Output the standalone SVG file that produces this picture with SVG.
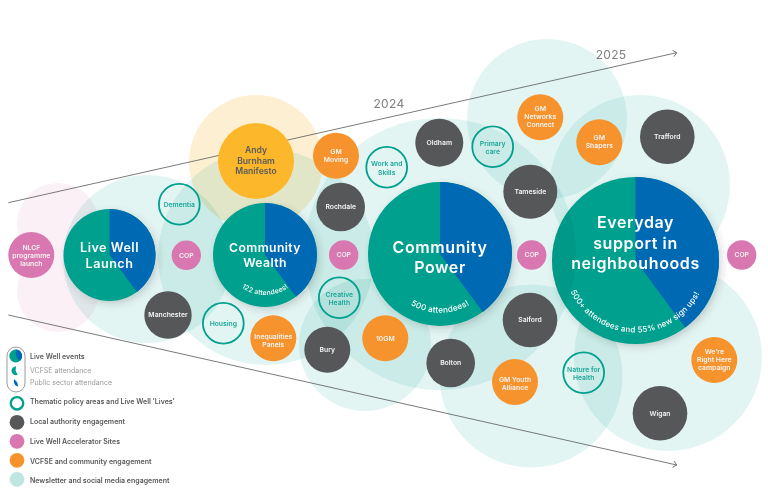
<svg xmlns="http://www.w3.org/2000/svg" width="768" height="501" viewBox="0 0 768 501">
<style>
text{font-family:Inter,"Liberation Sans",sans-serif;text-anchor:middle}
.halo{fill:#e3f5f3;mix-blend-mode:multiply}
.s{font-size:6.8px;font-weight:600;fill:#f4f4f4}
.t{font-size:6.8px;font-weight:600;fill:#1aa898}
.ring{fill:none;stroke:#00a08e;stroke-width:1.8}
.gray{fill:#555759}.pink{fill:#d977b0}.orange{fill:#f7932d}
.teal{fill:#00a08e}.blue{fill:#0069b4}
.big{fill:#fff;font-weight:600}
.cv{fill:#fff;font-weight:500}
.year{font-size:12px;fill:#808080;letter-spacing:.3px}
.leg{font-size:7px;font-weight:600;fill:#58595b;text-anchor:start}
.legl{font-size:7px;fill:#9a9a9a;text-anchor:start}
.axis{fill:none;stroke:#58595b;stroke-width:.8}
</style>
<defs>
<filter id="sh" x="-20%" y="-20%" width="145%" height="145%"><feDropShadow dx="2.5" dy="3" stdDeviation="3.5" flood-color="#333" flood-opacity=".2"/></filter>
<marker id="arr" markerWidth="8" markerHeight="8" refX="6" refY="4" orient="auto" markerUnits="userSpaceOnUse"><path d="M2.5 .8L6 4L2.5 7.2" fill="none" stroke="#58595b" stroke-width=".8"/></marker>
<clipPath id="evc"><circle cx="635.5" cy="260.5" r="83.5"/></clipPath>
<path id="a1" d="M225 255A40 40 0 0 0 305 255"/>
<path id="a2" d="M381.3 254A58.7 58.7 0 0 0 498.7 254"/>
<path id="a3" d="M563.5 260.5A72 72 0 0 0 707.5 260.5"/>
</defs>

<g id="halos">
<g style="mix-blend-mode:multiply" fill="#fbf0f6"><circle cx="58" cy="224" r="41"/><circle cx="58" cy="291" r="41"/></g>
<circle class="halo" cx="147" cy="259" r="84"/>
<circle class="halo" cx="266" cy="257" r="108"/>
<circle cx="256" cy="162" r="67" fill="#fdf0d2" style="mix-blend-mode:multiply"/>
<circle class="halo" cx="440" cy="254" r="136"/>
<circle class="halo" cx="365" cy="345" r="66"/>
<circle class="halo" cx="547" cy="119" r="80"/>
<circle class="halo" cx="640" cy="185" r="90"/>
<circle class="halo" cx="668" cy="357" r="94"/>
<circle class="halo" cx="531" cy="376" r="91.5"/>
</g>

<g id="connectors">
<path class="axis" d="M8.3 202.7L676.7 52.7" marker-end="url(#arr)"/>
<path class="axis" d="M8.3 315L676.7 465" marker-end="url(#arr)"/>
</g>
<text class="year" x="389" y="107.5">2024</text>
<text class="year" x="611" y="58.5">2025</text>

<g id="nlcf"><circle class="pink" cx="31.3" cy="255" r="23"/><text class="s"><tspan x="31.3" y="249.5">NLCF</tspan><tspan x="31.3" y="257.7">programme</tspan><tspan x="31.3" y="265.9">launch</tspan></text></g>
<g id="live-well"><g filter="url(#sh)"><circle class="teal" cx="109.5" cy="255" r="46"/><path class="blue" d="M109.5 255V209A46 46 0 0 1 136.9 292Z"/></g><text class="big" font-size="12.6" letter-spacing=".5"><tspan x="109.5" y="252">Live Well</tspan><tspan x="109.5" y="268">Launch</tspan></text></g>
<g id="dementia"><circle class="ring" cx="179.3" cy="204.3" r="20.4"/><text class="t" x="179.3" y="206.5">Dementia</text></g>
<g id="cop1"><circle class="pink" cx="186.3" cy="255.3" r="14.7"/><text class="s" x="186.3" y="257.6">COP</text></g>
<g id="manchester"><circle class="gray" cx="168" cy="315" r="23.7"/><text class="s" x="168" y="317.2">Manchester</text></g>
<g id="housing"><circle class="ring" cx="223.3" cy="323.3" r="20.4"/><text class="t" x="223.3" y="325.5">Housing</text></g>
<g id="inequalities"><circle class="orange" cx="273.3" cy="338.3" r="23"/><text class="s"><tspan x="273.3" y="338.5">Inequalities</tspan><tspan x="273.3" y="346.7">Panels</tspan></text></g>
<g id="andy"><circle cx="256" cy="161" r="38" fill="#fdb72b"/><text font-size="8.6" font-weight="600" fill="#58595b"><tspan x="256" y="153">Andy</tspan><tspan x="256" y="163.5">Burnham</tspan><tspan x="256" y="174">Manifesto</tspan></text></g>
<g id="community-wealth"><g filter="url(#sh)"><circle class="teal" cx="265" cy="255" r="52"/><path class="blue" d="M265 255V203A52 52 0 0 1 295.9 296.8Z"/></g><text class="big" font-size="12.2" letter-spacing=".4"><tspan x="265" y="251.7">Community</tspan><tspan x="265" y="266.7">Wealth</tspan></text><text class="cv" font-size="6.8" letter-spacing=".2"><textPath href="#a1" startOffset="50%">122 attendees!</textPath></text></g>
<g id="gm-moving"><circle class="orange" cx="336" cy="155.7" r="23"/><text class="s"><tspan x="336" y="153.5">GM</tspan><tspan x="336" y="161.7">Moving</tspan></text></g>
<g id="rochdale"><circle class="gray" cx="340.7" cy="207" r="24.3"/><text class="s" x="340.7" y="209.2">Rochdale</text></g>
<g id="cop2"><circle class="pink" cx="343.7" cy="255" r="14.7"/><text class="s" x="343.7" y="257.3">COP</text></g>
<g id="creative"><circle class="ring" cx="339.3" cy="297.7" r="20.4"/><text class="t"><tspan x="339.3" y="296.7">Creative</tspan><tspan x="339.3" y="304.9">Health</tspan></text></g>
<g id="bury"><circle class="gray" cx="327.3" cy="349.7" r="23"/><text class="s" x="327.3" y="351.9">Bury</text></g>
<g id="tengm"><circle class="orange" cx="385.3" cy="338.3" r="23"/><text class="s" x="385.3" y="340.5">10GM</text></g>
<g id="work"><circle class="ring" cx="386.7" cy="167.3" r="20.4"/><text class="t"><tspan x="386.7" y="166.3">Work and</tspan><tspan x="386.7" y="174.5">Skills</tspan></text></g>
<g id="oldham"><circle class="gray" cx="439.3" cy="142.7" r="24"/><text class="s" x="439.3" y="144.9">Oldham</text></g>
<g id="community-power"><g filter="url(#sh)"><circle class="teal" cx="440" cy="254" r="72"/><path class="blue" d="M440 254V182A72 72 0 0 1 482.8 311.9Z"/></g><text class="big" font-size="16" letter-spacing=".6"><tspan x="440" y="252.7">Community</tspan><tspan x="440" y="273.3">Power</tspan></text><text class="cv" font-size="8.2" letter-spacing=".2"><textPath href="#a2" startOffset="50%">500 attendees!</textPath></text></g>
<g id="bolton"><circle class="gray" cx="450.7" cy="363" r="24.3"/><text class="s" x="450.7" y="365.2">Bolton</text></g>
<g id="primary"><circle class="ring" cx="492.7" cy="146.7" r="20.4"/><text class="t"><tspan x="492.7" y="145.5">Primary</tspan><tspan x="492.7" y="153.7">care</tspan></text></g>
<g id="tameside"><circle class="gray" cx="530.3" cy="191.7" r="27"/><text class="s" x="530.3" y="194">Tameside</text></g>
<g id="cop3"><circle class="pink" cx="531.7" cy="255" r="14.7"/><text class="s" x="531.7" y="257.3">COP</text></g>
<g id="salford"><circle class="gray" cx="530" cy="320" r="27.3"/><text class="s" x="530" y="322.2">Salford</text></g>
<g id="gm-networks"><circle class="orange" cx="540.3" cy="117.3" r="23"/><text class="s"><tspan x="540.3" y="111">GM</tspan><tspan x="540.3" y="119.2">Networks</tspan><tspan x="540.3" y="127.4">Connect</tspan></text></g>
<g id="gm-shapers"><circle class="orange" cx="599.3" cy="142.3" r="23"/><text class="s"><tspan x="599.3" y="140">GM</tspan><tspan x="599.3" y="148.2">Shapers</tspan></text></g>
<g id="trafford"><circle class="gray" cx="667.3" cy="136.7" r="27.3"/><text class="s" x="667.3" y="139">Trafford</text></g>
<g id="everyday"><g filter="url(#sh)"><circle class="teal" cx="635.5" cy="260.5" r="83.5"/><path class="blue" d="M635.5 260.5V177A83.5 83.5 0 0 1 685.2 327.6Z"/></g><circle cx="440" cy="254" r="136" fill="#008c7c" opacity=".35" clip-path="url(#evc)"/><text class="big" font-size="16" letter-spacing=".6"><tspan x="635.5" y="228.3">Everyday</tspan><tspan x="635.5" y="249">support in</tspan><tspan x="635.5" y="269">neighbouhoods</tspan></text><text class="cv" font-size="8" letter-spacing=".2"><textPath href="#a3" startOffset="49.5%">500+ attendees and 55% new sign ups!</textPath></text></g>
<g id="cop4"><circle class="pink" cx="741.7" cy="255" r="14.7"/><text class="s" x="741.7" y="257.3">COP</text></g>
<g id="right-here"><circle class="orange" cx="714.3" cy="360" r="23"/><text class="s"><tspan x="714.3" y="353.5">We're</tspan><tspan x="714.3" y="361.7">Right Here</tspan><tspan x="714.3" y="369.9">campaign</tspan></text></g>
<g id="wigan"><circle class="gray" cx="660" cy="413.3" r="27.3"/><text class="s" x="660" y="415.6">Wigan</text></g>
<g id="gm-youth"><circle class="orange" cx="515" cy="382" r="23"/><text class="s"><tspan x="515" y="381.5">GM Youth</tspan><tspan x="515" y="389.7">Alliance</tspan></text></g>
<g id="nature"><circle class="ring" cx="583.7" cy="372.7" r="20.4"/><text class="t"><tspan x="583.7" y="371.5">Nature for</tspan><tspan x="583.7" y="379.7">Health</tspan></text></g>

<g id="legend">
<rect x="7" y="347" width="18" height="45" rx="9" fill="#fff" stroke="#58595b" stroke-width=".6"/>
<circle class="teal" cx="15.7" cy="356" r="6.4"/><path class="blue" d="M15.7 356V349.6A6.4 6.4 0 0 1 19.5 361.1Z"/>
<path class="teal" d="M16 366.5A4.4 4.4 0 0 0 11.5 371A4.4 4.4 0 0 0 17.8 374.8L15.6 371Z"/>
<path class="blue" d="M14 379.2C16 380.5 18 382.5 18 386.6C15.4 386 13.2 383.5 14 379.2Z"/>
<text class="leg" x="30" y="358.5">Live Well events</text>
<text class="legl" x="30" y="372.7">VCFSE attendance</text>
<text class="legl" x="30" y="385">Public sector attendance</text>
<circle cx="17" cy="403.3" r="6.2" fill="none" stroke="#00a08e" stroke-width="2.4"/>
<text class="leg" x="30" y="403.8">Thematic policy areas and Live Well 'Lives'</text>
<circle class="gray" cx="17" cy="422.3" r="7.4"/>
<text class="leg" x="30" y="424.3">Local authority engagement</text>
<circle class="pink" cx="17" cy="441.3" r="7.4"/>
<text class="leg" x="30" y="444.3">Live Well Accelerator Sites</text>
<circle class="orange" cx="17" cy="460.3" r="7.4"/>
<text class="leg" x="30" y="463.8">VCFSE and community engagement</text>
<circle cx="17" cy="479.3" r="7.4" fill="#bfe6e1"/>
<text class="leg" x="30" y="483">Newsletter and social media engagement</text>
</g>
</svg>
